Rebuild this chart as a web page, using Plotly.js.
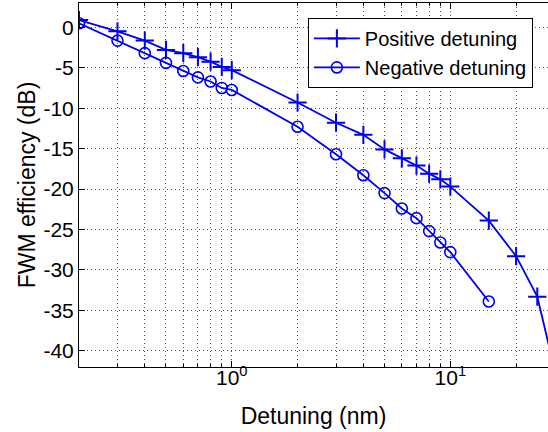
<!DOCTYPE html>
<html>
<head>
<meta charset="utf-8">
<script src="https://cdn.plot.ly/plotly-3.0.1.min.js"></script>
<style>html,body{margin:0;padding:0;background:#fff;}#chart{width:548px;height:432px;}</style>
</head>
<body>
<div id="chart"></div>
<script>
// Data
const detuningPos = [0.2, 0.3, 0.4, 0.5, 0.6, 0.7, 0.8, 0.9, 1, 2, 3, 4, 5, 6, 7, 8, 9, 10, 15, 20, 25, 30];
const efficiencyPos = [0.9, -0.5, -1.65, -2.8, -3.2, -3.7, -4.25, -4.9, -5.3, -9.3, -11.8, -13.3, -15.1, -16.2, -17.1, -18.1, -18.8, -19.7, -23.9, -28.3, -33.3, -42.3];
const detuningNeg = [0.2, 0.3, 0.4, 0.5, 0.6, 0.7, 0.8, 0.9, 1, 2, 3, 4, 5, 6, 7, 8, 9, 10, 15];
const efficiencyNeg = [0.5, -1.65, -3.2, -4.4, -5.4, -6.2, -6.7, -7.5, -7.75, -12.3, -15.7, -18.3, -20.5, -22.4, -23.6, -25.2, -26.6, -27.8, -33.9];
const seriesNames = ["Positive detuning", "Negative detuning"];
const yTickVals = [0, -5, -10, -15, -20, -25, -30, -35, -40];
const yTickText = ["0", "-5", "-10", "-15", "-20", "-25", "-30", "-35", "-40"];
const xTickVals = [1, 10];
const xTickText = ["10<sup>0</sup>", "10<sup>1</sup>"];
const xMinorVals = [0.3, 0.4, 0.5, 0.6, 0.7, 0.8, 0.9, 2, 3, 4, 5, 6, 7, 8, 9, 20];

const blue = '#0000f0';
const font = 'Liberation Sans, Arial, sans-serif';
const gridDash = '1px,3px';
const gridColor = '#555';

const traces = [
  {x: detuningPos, y: efficiencyPos, name: seriesNames[0], type: 'scatter', mode: 'lines+markers',
   line: {color: blue, width: 1.8},
   marker: {symbol: 'cross-thin-open', size: 13, color: blue, line: {color: blue, width: 2}}},
  {x: detuningNeg, y: efficiencyNeg, name: seriesNames[1], type: 'scatter', mode: 'lines+markers',
   line: {color: blue, width: 1.8},
   marker: {symbol: 'circle-open', size: 11, color: blue, line: {color: blue, width: 1.6}}}
];

const layout = {
  width: 548, height: 432,
  margin: {l: 79, r: 0, t: 3, b: 65},
  paper_bgcolor: '#fff', plot_bgcolor: '#fff',
  font: {family: font, color: '#000', size: 20},
  showlegend: true,
  xaxis: {
    type: 'log', range: [Math.log10(0.2), 1.447],
    tickmode: 'array', tickvals: xTickVals, ticktext: xTickText,
    ticks: 'inside', ticklen: 6, tickcolor: '#000', tickwidth: 1,
    showline: true, linecolor: '#000', linewidth: 1, mirror: 'allticks',
    showgrid: true, gridcolor: gridColor, griddash: gridDash, gridwidth: 1,
    zeroline: false,
    tickfont: {family: font, size: 21, color: '#000'},
    ticklabelstandoff: -8,
    minor: {tickmode: 'array', tickvals: xMinorVals, ticks: 'inside', ticklen: 3, tickcolor: '#000',
            showgrid: true, gridcolor: gridColor, griddash: gridDash, gridwidth: 1},
    title: {text: 'Detuning (nm)', font: {family: font, size: 23, color: '#000'}, standoff: 19}
  },
  yaxis: {
    range: [-42, 3],
    tickmode: 'array', tickvals: yTickVals, ticktext: yTickText,
    ticks: 'inside', ticklen: 6, tickcolor: '#000', tickwidth: 1,
    showline: true, linecolor: '#000', linewidth: 1, mirror: false,
    showgrid: true, gridcolor: gridColor, griddash: gridDash, gridwidth: 1,
    zeroline: false,
    tickfont: {family: font, size: 21, color: '#000'},
    ticklabelstandoff: 0,
    title: {text: 'FWM efficiency (dB)', font: {family: font, size: 23, color: '#000'}, standoff: 1}
  },
  legend: {
    x: 0.488, y: 0.959, xanchor: 'left', yanchor: 'top',
    bgcolor: '#fff', bordercolor: '#000', borderwidth: 1,
    font: {family: font, size: 20, color: '#000'},
    itemwidth: 46, tracegroupgap: 0
  }
};

Plotly.newPlot('chart', traces, layout, {staticPlot: true, displayModeBar: false});
</script>
</body>
</html>
